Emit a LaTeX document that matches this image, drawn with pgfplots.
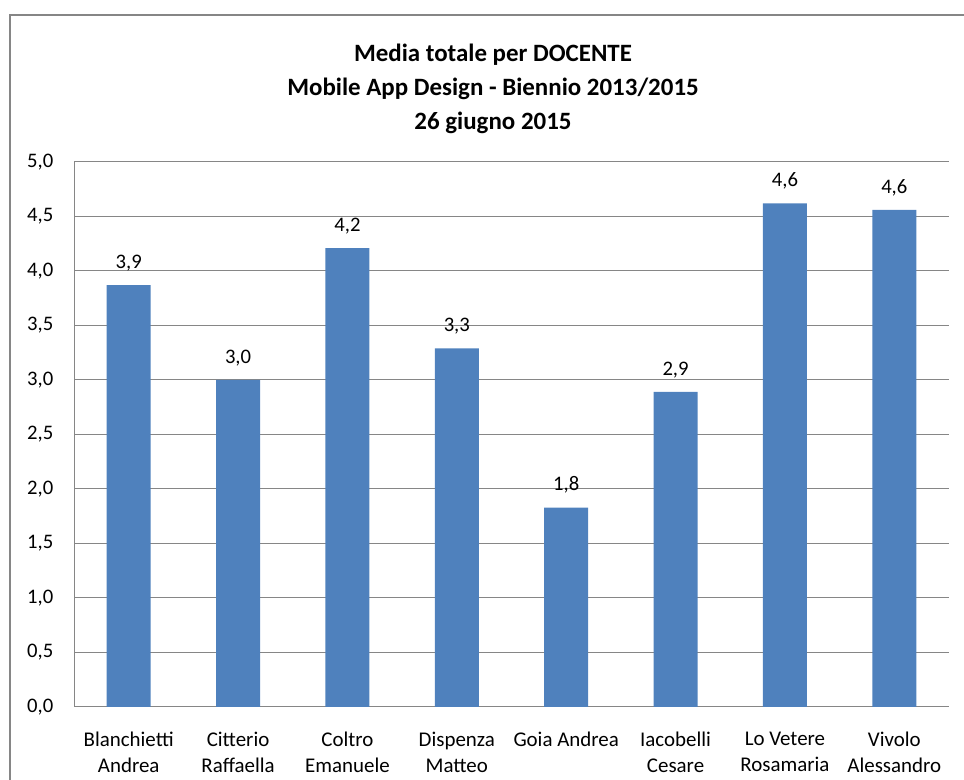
\documentclass[border=0pt]{standalone}
\usepackage{pgfplots}
\pgfplotsset{compat=1.18}
\usepackage{fontspec}
\setmainfont{Carlito}
\definecolor{barblue}{HTML}{4F81BD}
\definecolor{gridgray}{HTML}{868686}
\begin{document}
\begin{tikzpicture}[x=0.75pt,y=0.75pt]
\useasboundingbox (0,0) rectangle (964,780);
\begin{scope}
\clip (0,0) rectangle (964,780);
\draw[gridgray, line width=1pt] (10,765) rectangle (1000,-30);
\end{scope}
\node[align=center, font=\fontsize{18.7}{25.5}\selectfont\bfseries] at (493,691)
  {Media totale per DOCENTE\\Mobile App Design - Biennio 2013/2015\\26 giugno 2015};
\begin{axis}[
  scale only axis,
  width=656.25pt, height=408.75pt,
  anchor=south west, at={(55.5pt,54.75pt)},
  xmin=-0.5, xmax=7.5,
  ymin=0, ymax=5,
  ytick={0,0.5,...,5},
  xtick={0,...,7},
  xticklabels={{Blanchietti\\Andrea},{Citterio\\Raffaella},{Coltro\\Emanuele},{Dispenza\\Matteo},{Goia Andrea},{Iacobelli\\Cesare},{Lo Vetere\\Rosamaria},{Vivolo\\Alessandro}},
  xticklabel style={align=center, font=\fontsize{15.7}{19.5}\selectfont, yshift=-15.5pt},
  yticklabel style={font=\fontsize{15.5}{18}\selectfont, xshift=-12pt},
  yticklabel={\pgfmathprintnumber[fixed,fixed zerofill,precision=1,use comma,assume math mode=true]{\tick}},
  major tick length=0pt,
  axis x line*=bottom, axis y line*=left,
  axis line style={gridgray, line width=0.75pt},
  ymajorgrids, grid style={gridgray, line width=0.75pt},
  ybar, bar width=33pt,
  nodes near coords={\pgfmathprintnumber[fixed,fixed zerofill,precision=1,use comma,assume math mode=true]{\pgfplotspointmeta}},
  nodes near coords style={font=\fontsize{15.5}{18}\selectfont, yshift=7pt},
  clip=false,
]
\addplot[fill=barblue, draw=none] coordinates {(0,3.87) (1,3.00) (2,4.21) (3,3.29) (4,1.83) (5,2.89) (6,4.62) (7,4.56)};
\end{axis}
\end{tikzpicture}
\end{document}
